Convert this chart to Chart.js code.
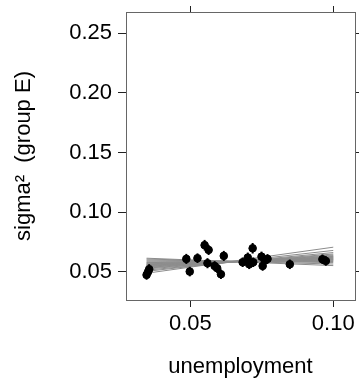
<!DOCTYPE html>
<html>
<head>
<meta charset="utf-8">
<script src="https://cdn.jsdelivr.net/npm/chart.js"></script>
<style>
  body { margin: 0; background: #fff; }
  #wrap { width: 360px; height: 380px; }
</style>
</head>
<body>
<div id="wrap"><canvas id="chart" width="360" height="380"></canvas></div>
<script>
// observations (unemployment vs sigma^2 estimate)
const unemp = [0.0347, 0.0352, 0.0356, 0.0486, 0.0498, 0.0525, 0.0550, 0.0564, 0.0560, 0.0585,
               0.0594, 0.0607, 0.0617, 0.0683, 0.0701, 0.0706, 0.0718, 0.0720, 0.0749, 0.0753,
               0.0761, 0.0770, 0.0848, 0.0962, 0.0974];
const sigma2 = [0.0475, 0.0500, 0.0523, 0.0609, 0.0503, 0.0615, 0.0724, 0.0684, 0.0573, 0.0550,
                0.0531, 0.0481, 0.0634, 0.0581, 0.0620, 0.0564, 0.0698, 0.0581, 0.0628, 0.0550,
                0.0595, 0.0609, 0.0564, 0.0606, 0.0592];
const errHalf = [0.0040, 0.0040, 0.0042, 0.0042, 0.0040, 0.0040, 0.0044, 0.0042, 0.0042, 0.0040,
                 0.0040, 0.0040, 0.0042, 0.0040, 0.0042, 0.0040, 0.0044, 0.0040, 0.0042, 0.0040,
                 0.0040, 0.0040, 0.0040, 0.0040, 0.0040];

// simulated regression lines, value at the two ends
const lineX0 = 0.0347;
const lineX1 = 0.1000;
const lineY0 = [0.0489, 0.0505, 0.0515, 0.0525, 0.0532, 0.0538, 0.0543, 0.0548, 0.0552, 0.0556,
                0.0560, 0.0564, 0.0568, 0.0573, 0.0578, 0.0584, 0.0592, 0.0600, 0.0608, 0.0615];
const lineY1 = [0.0707, 0.0680, 0.0662, 0.0650, 0.0642, 0.0636, 0.0630, 0.0626, 0.0622, 0.0618,
                0.0614, 0.0610, 0.0606, 0.0602, 0.0598, 0.0593, 0.0587, 0.0578, 0.0566, 0.0553];

const xTicks = [0.05, 0.10];
const yTicks = [0.05, 0.10, 0.15, 0.20, 0.25];
const xRange = [0.0275, 0.1076];
const yRange = [0.0265, 0.2676];

const FONT = "'Liberation Sans', Arial, sans-serif";

let datasets = [{
    label: "obs",
    data: unemp.map((x, i) => ({ x: x, y: sigma2[i] })),
    backgroundColor: "#000",
    borderColor: "#000",
    pointRadius: 3.8,
    order: 0
}];
lineY0.forEach((y0, i) => {
    datasets.push({
        type: "line",
        data: [{ x: lineX0, y: y0 }, { x: lineX1, y: lineY1[i] }],
        borderColor: "#8c8c8c",
        borderWidth: 1,
        pointRadius: 0,
        fill: false,
        order: 1
    });
});

const errorBars = {
    id: "errorBars",
    afterDatasetsDraw(chart) {
        const ctx = chart.ctx;
        const xs = chart.scales.x, ys = chart.scales.y;
        ctx.save();
        ctx.strokeStyle = "#000";
        ctx.lineWidth = 2;
        unemp.forEach((x, i) => {
            const px = xs.getPixelForValue(x);
            ctx.beginPath();
            ctx.moveTo(px, ys.getPixelForValue(sigma2[i] - errHalf[i]));
            ctx.lineTo(px, ys.getPixelForValue(sigma2[i] + errHalf[i]));
            ctx.stroke();
        });
        ctx.restore();
    }
};

function setTicks(vals) {
    return scale => { scale.ticks = vals.map(v => ({ value: v })); };
}
function fixSize(prop, size) {
    return s => {
        s[prop] = size;
        s.paddingTop = 0; s.paddingBottom = 0;
        s.paddingLeft = 0; s.paddingRight = 0;
    };
}

const grid = (len) => ({ drawOnChartArea: false, color: "#222", tickLength: len });
const border = { color: "#666", width: 1 };

new Chart(document.getElementById("chart"), {
    type: "scatter",
    data: { datasets: datasets },
    plugins: [errorBars],
    options: {
        responsive: false,
        animation: false,
        layout: { padding: 0 },
        plugins: { legend: { display: false }, tooltip: { enabled: false } },
        scales: {
            x: {
                type: "linear", position: "bottom",
                min: xRange[0], max: xRange[1],
                afterBuildTicks: setTicks(xTicks),
                afterFit: fixSize("height", 80),
                grid: grid(7), border: border,
                ticks: {
                    padding: 4, color: "#000",
                    font: { family: FONT, size: 22 },
                    callback: v => v.toFixed(2)
                },
                title: {
                    display: true, text: "unemployment", color: "#000",
                    font: { family: FONT, size: 22 },
                    padding: { top: 0, bottom: 0 }
                }
            },
            x2: {
                type: "linear", position: "top",
                min: xRange[0], max: xRange[1],
                afterBuildTicks: setTicks(xTicks),
                afterFit: fixSize("height", 12),
                grid: grid(6), border: border,
                ticks: { display: false }
            },
            y: {
                type: "linear", position: "left",
                min: yRange[0], max: yRange[1],
                afterBuildTicks: setTicks(yTicks),
                afterFit: fixSize("width", 126),
                grid: grid(8), border: border,
                ticks: {
                    padding: 6, color: "#000",
                    font: { family: FONT, size: 22 },
                    callback: v => v.toFixed(2)
                },
                title: {
                    display: true, text: "sigma\u00b2  (group E)", color: "#000",
                    font: { family: FONT, size: 22 },
                    padding: { top: 11, bottom: 0 }
                }
            },
            y2: {
                type: "linear", position: "right",
                min: yRange[0], max: yRange[1],
                afterBuildTicks: setTicks(yTicks),
                afterFit: fixSize("width", 4),
                grid: grid(4), border: border,
                ticks: { display: false }
            }
        }
    }
});
</script>
</body>
</html>
